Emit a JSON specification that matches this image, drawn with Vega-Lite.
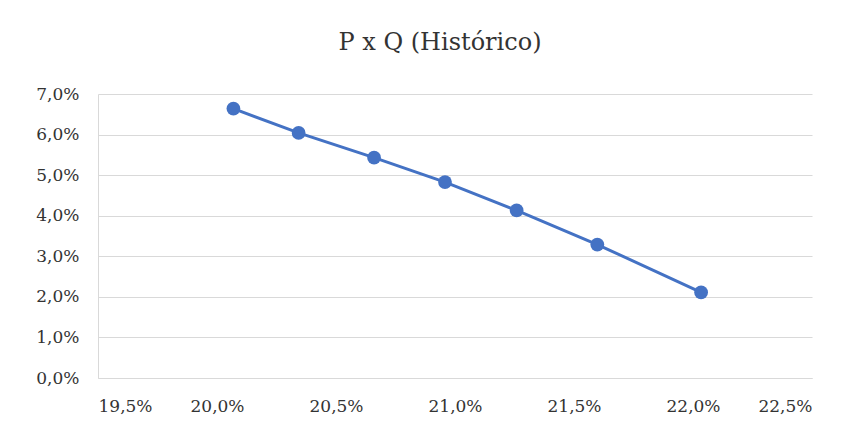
{
  "$schema": "https://vega.github.io/schema/vega-lite/v6.json",
  "autosize": "none",
  "width": 714,
  "height": 284,
  "padding": {"left": 98, "top": 94, "right": 49, "bottom": 54},
  "background": "white",
  "title": {
    "text": "P x Q (Histórico)",
    "font": "DejaVu Serif",
    "fontSize": 24,
    "fontWeight": "normal",
    "color": "#333333",
    "anchor": "middle",
    "dx": -15,
    "offset": 30
  },
  "config": {
    "locale": {
      "number": {"decimal": ",", "thousands": ".", "grouping": [3], "currency": ["R$", ""]}
    },
    "view": {"stroke": null},
    "axis": {
      "labelFont": "DejaVu Serif",
      "labelFontSize": 17,
      "labelColor": "#333333",
      "domainColor": "#d9d9d9",
      "gridColor": "#d9d9d9",
      "ticks": false,
      "title": null
    }
  },
  "data": {
    "values": [
      {"x": 0.20069, "y": 0.0664},
      {"x": 0.20343, "y": 0.0604},
      {"x": 0.20660, "y": 0.0543},
      {"x": 0.20958, "y": 0.0483},
      {"x": 0.21259, "y": 0.0413},
      {"x": 0.21598, "y": 0.0329},
      {"x": 0.22034, "y": 0.0211}
    ]
  },
  "encoding": {
    "x": {
      "field": "x",
      "type": "quantitative",
      "scale": {"domain": [0.195, 0.225], "nice": false, "zero": false},
      "axis": {"format": ".1%", "values": [0.195, 0.2, 0.205, 0.21, 0.215, 0.22, 0.225], "grid": false, "labelPadding": 20}
    },
    "y": {
      "field": "y",
      "type": "quantitative",
      "scale": {"domain": [0, 0.07], "nice": false},
      "axis": {"format": ".1%", "values": [0, 0.01, 0.02, 0.03, 0.04, 0.05, 0.06, 0.07], "labelPadding": 19}
    }
  },
  "layer": [
    {"mark": {"type": "line", "color": "#4472C4", "strokeWidth": 3}},
    {"mark": {"type": "point", "filled": true, "opacity": 1, "color": "#4472C4", "size": 190}}
  ]
}
